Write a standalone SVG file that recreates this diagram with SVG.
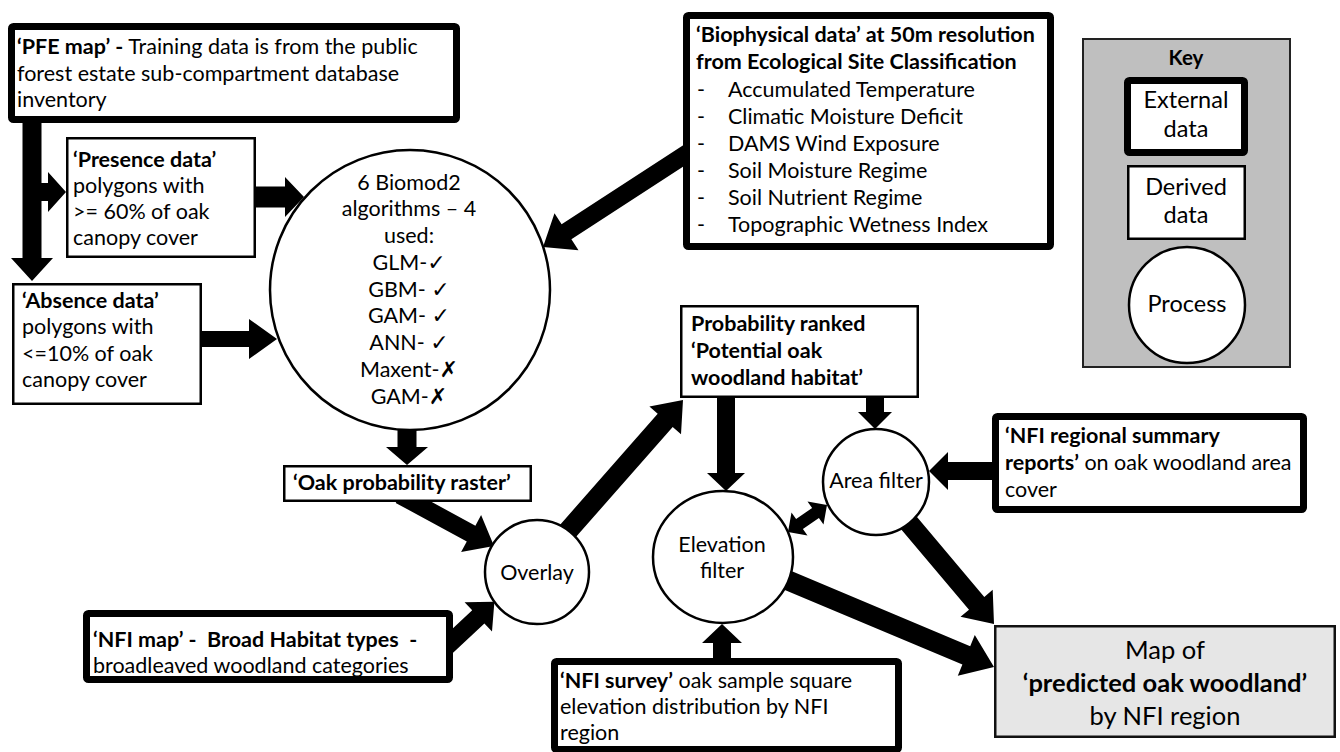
<svg xmlns="http://www.w3.org/2000/svg" width="1340" height="752" viewBox="0 0 1340 752">
<style>
  .bg{fill:#ffffff}
  .ext{fill:#ffffff;stroke:#000;stroke-width:7;stroke-linejoin:round}
  .der{fill:#ffffff;stroke:#000;stroke-width:2.5}
  .proc{fill:#ffffff;stroke:#000;stroke-width:2.5}
  .arr{fill:#000;stroke:none}
  text{font-family:Lato,"Open Sans","DejaVu Sans",sans-serif;font-size:21.5px;fill:#000}
  .b{font-weight:bold}
  .c{text-anchor:middle}
  .k{font-size:23.5px}
  .m{font-size:25.5px}
  .sym{font-family:"DejaVu Sans",sans-serif;font-size:22px}
</style>
<rect class="bg" x="0" y="0" width="1340" height="752"/>

<g id="connectors">
  <polygon class="arr" points="22.5,120 22.5,258 11,258 32,281 53,258 41.5,258 41.5,120"/>
  <polygon class="arr" points="40,183 48,183 48,172 66,192 48,212 48,201 40,201"/>
  <polygon class="arr" points="254,186.5 285,186.5 285,177 304,197 285,217 285,207.5 254,207.5"/>
  <polygon class="arr" points="200,331 249,331 249,319 277,339 249,359 249,347 200,347"/>
  <polygon class="arr" points="397.5,425 397.5,447 386,447 407,465 428,447 416.5,447 416.5,425"/>
  <polygon class="arr" points="695.1,137.5 561.6,224.2 554.5,213.3 543,247 578.5,250.2 571.4,239.3 704.9,152.6"/>
  <polygon class="arr" points="404.3,487.1 475.4,525.7 481.1,515.1 494,546 461.1,552.1 466.8,541.5 395.7,502.9"/>
  <polygon class="arr" points="552.5,533.4 657.7,413.7 649.4,406.4 683,400 681,434.2 672.7,426.9 567.5,546.6"/>
  <polygon class="arr" points="438.8,641.4 472.2,610.2 464.6,602.2 494.4,601.8 492,631.4 484.4,623.4 451.2,654.6"/>
  <polygon class="arr" points="717,396 717,473 707,473 726,491 745,473 735,473 735,396"/>
  <polygon class="arr" points="866,396 866,412 858,412 875,429 892,412 884,412 884,396"/>
  <polygon class="arr" points="998,462 948,462 948,452 929,471 948,490 948,480 998,480"/>
  <polygon class="arr" points="788,532 807.5,535.5 802.9,528.9 818.9,517.9 823.5,524.5 827,505 807.5,501.5 812.1,508.1 796.1,519.1 791.5,512.5"/>
  <polygon class="arr" points="905.7,503.6 984.3,596.9 992.7,589.8 994,624 960.5,616.8 969,609.7 890.3,516.4"/>
  <polygon class="arr" points="778.9,565.8 970.2,646.2 974.8,635.1 994,667 957.8,675.7 962.4,664.6 771.1,584.2"/>
  <polygon class="arr" points="713,664 713,643 702,643 722,624 742,643 731,643 731,664"/>
</g>

<g id="pfe-map">
  <rect class="ext" x="11.5" y="26.5" width="445" height="93" rx="2"/>
  <text x="17" y="54"><tspan class="b">‘PFE map’ -</tspan> Training data is from the public</text>
  <text x="17" y="81">forest estate sub-compartment database</text>
  <text x="17" y="107">inventory</text>
</g>

<g id="presence-data">
  <rect class="der" x="67.25" y="138.25" width="187.5" height="118.5"/>
  <text x="73" y="167" class="b">‘Presence data’</text>
  <text x="73" y="193">polygons with</text>
  <text x="73" y="219">&gt;= 60% of oak</text>
  <text x="73" y="245">canopy cover</text>
</g>

<g id="absence-data">
  <rect class="der" x="13.25" y="284.25" width="187.5" height="119.5"/>
  <text x="22" y="308" class="b">‘Absence data’</text>
  <text x="22" y="334">polygons with</text>
  <text x="22" y="361">&lt;=10% of oak</text>
  <text x="22" y="387">canopy cover</text>
</g>

<g id="biomod-algorithms">
  <circle class="proc" cx="410" cy="290" r="140"/>
  <text class="c" x="409" y="190">6 Biomod2</text>
  <text class="c" x="409" y="216">algorithms – 4</text>
  <text class="c" x="409" y="243">used:</text>
  <text class="c" x="409" y="270">GLM-<tspan class="sym">✓</tspan></text>
  <text class="c" x="409" y="297">GBM- <tspan class="sym">✓</tspan></text>
  <text class="c" x="409" y="323">GAM- <tspan class="sym">✓</tspan></text>
  <text class="c" x="409" y="350">ANN- <tspan class="sym">✓</tspan></text>
  <text class="c" x="409" y="377">Maxent-<tspan class="sym">✗</tspan></text>
  <text class="c" x="409" y="404">GAM-<tspan class="sym">✗</tspan></text>
</g>

<g id="biophysical-data">
  <rect class="ext" x="686.5" y="15.5" width="364" height="231" rx="2"/>
  <text x="696" y="42" class="b">‘Biophysical data’ at 50m resolution</text>
  <text x="696" y="69" class="b">from Ecological Site Classification</text>
  <text x="697" y="97">-</text><text x="728" y="97">Accumulated Temperature</text>
  <text x="697" y="124">-</text><text x="728" y="124">Climatic Moisture Deficit</text>
  <text x="697" y="151">-</text><text x="728" y="151">DAMS Wind Exposure</text>
  <text x="697" y="178">-</text><text x="728" y="178">Soil Moisture Regime</text>
  <text x="697" y="205">-</text><text x="728" y="205">Soil Nutrient Regime</text>
  <text x="697" y="232">-</text><text x="728" y="232">Topographic Wetness Index</text>
</g>

<g id="key">
  <rect x="1083" y="39" width="207" height="328" fill="#bfbfbf" stroke="#222" stroke-width="2"/>
  <text class="c b" x="1186" y="65" style="font-size:20.5px">Key</text>
  <rect class="ext" x="1127.5" y="80.5" width="117" height="72" rx="2"/>
  <text class="c k" x="1186" y="108">External</text>
  <text class="c k" x="1186" y="137">data</text>
  <rect class="der" x="1128.25" y="166.25" width="116.5" height="72.5"/>
  <text class="c k" x="1186" y="195">Derived</text>
  <text class="c k" x="1186" y="223">data</text>
  <circle class="proc" cx="1187" cy="305" r="58"/>
  <text class="c k" x="1187" y="312">Process</text>
</g>

<g id="oak-probability-raster">
  <rect class="der" x="284.25" y="466.25" width="246.5" height="34.5"/>
  <text x="293" y="490" class="b">‘Oak probability raster’</text>
</g>

<g id="potential-habitat">
  <rect class="der" x="681.25" y="306.25" width="236.5" height="90.5"/>
  <text x="691" y="331" class="b">Probability ranked</text>
  <text x="691" y="358" class="b">‘Potential oak</text>
  <text x="691" y="385" class="b">woodland habitat’</text>
</g>

<g id="overlay">
  <circle class="proc" cx="537" cy="572" r="52"/>
  <text class="c" x="537" y="580">Overlay</text>
</g>

<g id="elevation-filter">
  <ellipse class="proc" cx="723" cy="557" rx="70" ry="66"/>
  <text class="c" x="722" y="552">Elevation</text>
  <text class="c" x="722" y="578">filter</text>
</g>

<g id="area-filter">
  <circle class="proc" cx="876" cy="482" r="53"/>
  <text class="c" x="876" y="488">Area filter</text>
</g>

<g id="nfi-regional-reports">
  <rect class="ext" x="995.5" y="416.5" width="308" height="93" rx="2"/>
  <text x="1005" y="443" class="b">‘NFI regional summary</text>
  <text x="1005" y="470"><tspan class="b">reports’</tspan> on oak woodland area</text>
  <text x="1005" y="497">cover</text>
</g>

<g id="nfi-map">
  <rect class="ext" x="86.5" y="613.5" width="363" height="66" rx="2"/>
  <text x="93" y="647" class="b" xml:space="preserve">‘NFI map’ -  Broad Habitat types  -</text>
  <text x="93" y="673">broadleaved woodland categories</text>
</g>

<g id="nfi-survey">
  <rect class="ext" x="554.5" y="661.5" width="344" height="88" rx="2"/>
  <text x="560" y="688"><tspan class="b">‘NFI survey’</tspan> oak sample square</text>
  <text x="560" y="714">elevation distribution by NFI</text>
  <text x="560" y="740">region</text>
</g>

<g id="predicted-oak-woodland">
  <rect x="995.25" y="626.25" width="339.5" height="110.5" fill="#e6e6e6" stroke="#111" stroke-width="2.5"/>
  <text class="c m" x="1165" y="659">Map of</text>
  <text class="c m b" x="1165" y="692">‘predicted oak woodland’</text>
  <text class="c m" x="1165" y="725">by NFI region</text>
</g>
</svg>
